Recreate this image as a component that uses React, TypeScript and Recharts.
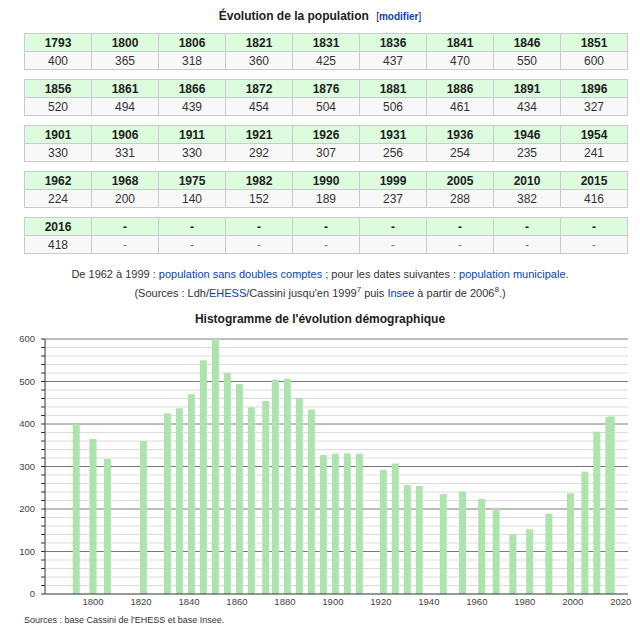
import React from 'react';
import { BarChart, Bar, XAxis, YAxis, CartesianGrid } from 'recharts';

const years = [
  1793, 1800, 1806, 1821, 1831, 1836, 1841, 1846, 1851,
  1856, 1861, 1866, 1872, 1876, 1881, 1886, 1891, 1896,
  1901, 1906, 1911, 1921, 1926, 1931, 1936, 1946, 1954,
  1962, 1968, 1975, 1982, 1990, 1999, 2005, 2010, 2015,
  2016,
];
const population = [
  400, 365, 318, 360, 425, 437, 470, 550, 600,
  520, 494, 439, 454, 504, 506, 461, 434, 327,
  330, 331, 330, 292, 307, 256, 254, 235, 241,
  224, 200, 140, 152, 189, 237, 288, 382, 416,
  418,
];
const xTicks = [1800, 1820, 1840, 1860, 1880, 1900, 1920, 1940, 1960, 1980, 2000, 2020];
const yTicks = Array.from({ length: 31 }, (_, i) => i * 20);
const majorLines = [100, 200, 300, 400, 500, 600];
const minorLines = yTicks.filter((v) => v % 100 !== 0);

const data = years.map((year, i) => ({ year, pop: population[i] }));

const font = '"Liberation Sans", Arial, sans-serif';
const link = { color: '#0645ad' };
const BAR_W = 7;

function rowsOf<T>(arr: T[], n: number, fill: T): T[][] {
  const out: T[][] = [];
  for (let i = 0; i < arr.length; i += n) {
    const row = arr.slice(i, i + n);
    while (row.length < n) row.push(fill);
    out.push(row);
  }
  return out;
}

// recharts squeezes bars to the 1-year gap (2015/2016), so draw a fixed-width rect centred on the slot
function WideBar(props: any) {
  const { x, y, width, height, fill } = props;
  if (height == null || height <= 0) return null;
  return <rect x={x + width / 2 - BAR_W / 2} y={y} width={BAR_W} height={height} fill={fill} />;
}

function PopTable() {
  const yRows = rowsOf<string | number>(years, 9, '-');
  const pRows = rowsOf<string | number>(population, 9, '-');
  const cell: React.CSSProperties = {
    border: '1px solid #c8ccd1',
    textAlign: 'center',
    height: 17,
    padding: 0,
    fontSize: 12,
    color: '#202122',
  };
  return (
    <div>
      {yRows.map((row, r) => (
        <table
          key={r}
          style={{ borderCollapse: 'collapse', width: 604, tableLayout: 'fixed', marginBottom: 9, fontFamily: font }}
        >
          <tbody>
            <tr>
              {row.map((y, c) => (
                <td key={c} style={{ ...cell, background: '#ddfcdd', fontWeight: 'bold' }}>{y}</td>
              ))}
            </tr>
            <tr>
              {pRows[r].map((p, c) => (
                <td key={c} style={{ ...cell, background: '#f8f8f8', color: p === '-' ? '#777' : '#333' }}>{p}</td>
              ))}
            </tr>
          </tbody>
        </table>
      ))}
    </div>
  );
}

const sup: React.CSSProperties = { fontSize: 8, lineHeight: 0, position: 'relative', top: -5, verticalAlign: 'baseline' };

export default function App() {
  return (
    <div style={{ position: 'absolute', left: 0, top: 0, width: 640, height: 634, background: '#fff', fontFamily: font, overflow: 'hidden' }}>
      <div style={{ position: 'absolute', top: 9, width: 640, textAlign: 'center', fontSize: 12, fontWeight: 'bold', color: '#202122' }}>
        Évolution de la population <span style={{ fontSize: 10, marginLeft: 4, fontWeight: 'normal' }}>[<span style={{ ...link, fontWeight: 'bold' }}>modifier</span>]</span>
      </div>
      <div style={{ position: 'absolute', top: 33, left: 24 }}>
        <PopTable />
      </div>
      <div style={{ position: 'absolute', top: 265, width: 640, textAlign: 'center', fontSize: 11, color: '#333', lineHeight: '19px' }}>
        <div>
          De 1962 à 1999 : <span style={link}>population sans doubles comptes</span> ; pour les dates suivantes : <span style={link}>population municipale</span>.
        </div>
        <div>
          (Sources : Ldh/<span style={link}>EHESS</span>/Cassini jusqu'en 1999<sup style={sup}>7</sup> puis <span style={link}>Insee</span> à partir de 2006<sup style={sup}>8</sup>.)
        </div>
      </div>
      <div style={{ position: 'absolute', top: 312, width: 640, textAlign: 'center', fontSize: 12, fontWeight: 'bold', color: '#202122' }}>
        Histogramme de l'évolution démographique
      </div>
      <div style={{ position: 'absolute', top: 330, left: 0 }}>
        <BarChart width={640} height={282} data={data} margin={{ top: 9, right: 12, left: 0, bottom: 0 }}>
          <CartesianGrid vertical={false} horizontalValues={minorLines} stroke="#dddddd" />
          <CartesianGrid vertical={false} horizontalValues={majorLines} stroke="#7a7a7a" />
          <XAxis
            dataKey="year"
            type="number"
            domain={[1780, 2023]}
            ticks={xTicks}
            tickLine={false}
            axisLine={{ stroke: '#333' }}
            tick={{ fontSize: 9.5, fill: '#444', fontFamily: font }}
            height={18}
            tickMargin={-2}
          />
          <YAxis
            type="number"
            domain={[0, 600]}
            ticks={yTicks}
            interval={0}
            width={45}
            tickSize={4}
            tickLine={{ stroke: '#333' }}
            axisLine={{ stroke: '#333' }}
            tickFormatter={(v) => (v % 100 === 0 ? String(v) : '')}
            tick={{ fontSize: 9.5, fill: '#444', fontFamily: font }}
            tickMargin={6}
          />
          <Bar dataKey="pop" fill="#ade3ad" isAnimationActive={false} shape={WideBar} />
        </BarChart>
      </div>
      <div style={{ position: 'absolute', top: 615, left: 24, fontSize: 9, color: '#333' }}>
        Sources : base Cassini de l'EHESS et base Insee.
      </div>
    </div>
  );
}
